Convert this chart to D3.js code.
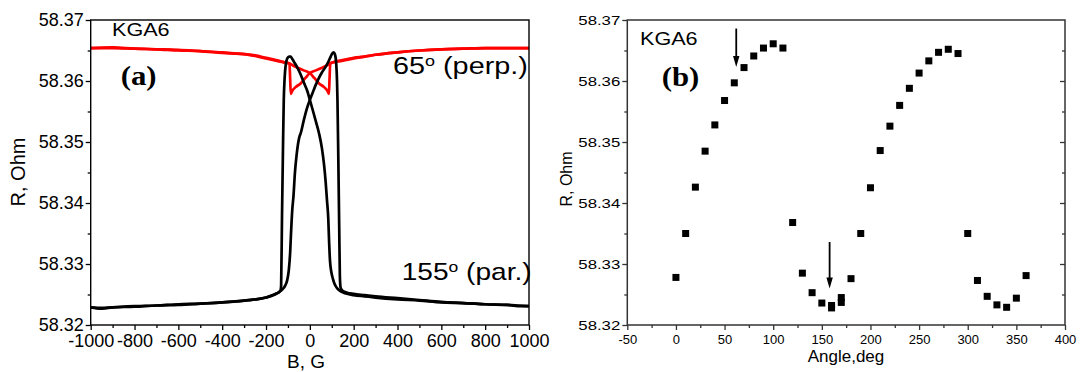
<!DOCTYPE html>
<html>
<head>
<meta charset="utf-8">
<script src="https://cdn.jsdelivr.net/npm/d3@7"></script>
<style>
  body { margin: 0; background: #fff; }
  svg { display: block; }
  text { font-family: "Liberation Sans", Arial, sans-serif; white-space: pre; }
</style>
</head>
<body>
<svg id="chart" width="1081" height="372"></svg>
<script>
// ---------- (a) R vs field, two sweeps per orientation ----------
const redUpB = [-1000, -900, -800, -700, -600, -500, -400, -300, -250, -200, -150, -130, -110, -95, -75, -50, -25, 0, 20, 42, 65, 80, 87, 90, 93, 110, 130, 160, 200, 250, 300, 400, 500, 600, 700, 800, 900, 1000];
const redUpR = [58.3654, 58.3654, 58.3653, 58.3652, 58.3651, 58.3649, 58.3647, 58.3644, 58.3642, 58.3638, 58.3634, 58.3632, 58.3630, 58.3629, 58.3625, 58.3621, 58.3617, 58.3613, 58.3605, 58.3596, 58.3590, 58.3584, 58.3579, 58.3605, 58.3629, 58.3631, 58.3632, 58.3634, 58.3637, 58.3640, 58.3643, 58.3647, 58.3650, 58.3652, 58.3653, 58.3654, 58.3654, 58.3654];

const redDnB = [-1000, -900, -800, -700, -600, -500, -400, -300, -250, -200, -150, -110, -93, -90, -87, -80, -65, -42, -20, 0, 25, 50, 75, 95, 110, 130, 160, 200, 250, 300, 400, 500, 600, 700, 800, 900, 1000];
const redDnR = [58.3654, 58.3655, 58.3653, 58.3652, 58.3650, 58.3649, 58.3646, 58.3644, 58.3641, 58.3637, 58.3633, 58.3630, 58.3629, 58.3605, 58.3579, 58.3584, 58.3590, 58.3596, 58.3605, 58.3613, 58.3617, 58.3621, 58.3625, 58.3629, 58.3631, 58.3633, 58.3635, 58.3638, 58.3640, 58.3643, 58.3647, 58.3650, 58.3652, 58.3653, 58.3654, 58.3654, 58.3654];

const blackUpB = [-1000, -950, -900, -850, -800, -700, -600, -500, -400, -300, -250, -200, -170, -150, -140, -133, -131, -127, -123, -119, -115, -110, -103, -95, -88, -80, -70, -57, -45, -27, -12, 0, 15, 28, 42, 55, 65, 72, 78, 84, 88, 92, 98, 105, 112, 125, 141, 160, 200, 250, 300, 400, 500, 600, 700, 800, 900, 950, 1000];
const blackUpR = [58.3229, 58.3227, 58.3229, 58.3230, 58.3231, 58.3232, 58.3234, 58.3235, 58.3237, 58.3240, 58.3242, 58.3245, 58.3249, 58.3252, 58.3254, 58.3258, 58.3265, 58.3380, 58.3480, 58.3569, 58.3605, 58.3627, 58.3637, 58.3640, 58.3640, 58.3636, 58.3630, 58.3622, 58.3613, 58.3597, 58.3584, 58.3569, 58.3550, 58.3533, 58.3514, 58.3490, 58.3462, 58.3435, 58.3405, 58.3375, 58.3335, 58.3305, 58.3287, 58.3276, 58.3268, 58.3260, 58.3255, 58.3252, 58.3249, 58.3247, 58.3245, 58.3242, 58.3240, 58.3237, 58.3236, 58.3234, 58.3233, 58.3232, 58.3231];

const blackDnB = [-1000, -950, -900, -800, -700, -600, -500, -400, -300, -200, -160, -141, -126, -112, -103, -96, -90, -86, -80, -75, -68, -60, -48, -42, -28, -15, 0, 12, 25, 40, 55, 70, 85, 95, 102, 108, 115, 120, 124, 126, 130, 134, 137, 140, 145, 150, 170, 200, 250, 300, 400, 500, 600, 700, 800, 900, 950, 1000];
const blackDnR = [58.3229, 58.3228, 58.3229, 58.3230, 58.3232, 58.3233, 58.3235, 58.3237, 58.3240, 58.3245, 58.3250, 58.3254, 58.3258, 58.3265, 58.3274, 58.3290, 58.3318, 58.3350, 58.3390, 58.3410, 58.3450, 58.3480, 58.3508, 58.3514, 58.3535, 58.3553, 58.3569, 58.3580, 58.3592, 58.3604, 58.3614, 58.3622, 58.3632, 58.3640, 58.3645, 58.3647, 58.3643, 58.3630, 58.3600, 58.3569, 58.3470, 58.3360, 58.3280, 58.3262, 58.3258, 58.3256, 58.3253, 58.3251, 58.3249, 58.3247, 58.3244, 58.3241, 58.3238, 58.3236, 58.3234, 58.3233, 58.3231, 58.3231];

const fieldTicks = [-1000, -800, -600, -400, -200, 0, 200, 400, 600, 800, 1000];
const fieldMinor = [-900, -700, -500, -300, -100, 100, 300, 500, 700, 900];

// ---------- (b) R vs angle ----------
const angleDeg = [0, 10, 20, 30, 40, 50, 60, 70, 80, 90, 100, 110, 120, 130, 140, 150, 160, 170, 180, 190, 200, 210, 220, 230, 240, 250, 260, 270, 280, 290, 300, 310, 320, 330, 340, 350, 360];
const resistance = [58.3278, 58.3350, 58.3426, 58.3485, 58.3528, 58.3568, 58.3597, 58.3622, 58.3641, 58.3654, 58.3661, 58.3654, 58.3368, 58.3285, 58.3253, 58.3236, 58.3232, 58.3245, 58.3276, 58.3350, 58.3425, 58.3486, 58.3526, 58.3560, 58.3588, 58.3613, 58.3633, 58.3647, 58.3652, 58.3645, 58.3350, 58.3273, 58.3247, 58.3233, 58.3229, 58.3244, 58.3281];
const repeatAngle = [160, 170];
const repeatR = [58.3228, 58.3237];

const arrowAngle = [62, 158];
const arrowFrom = [58.3686, 58.3336];
const arrowTo = [58.3623, 58.3260];

const angleTicks = [-50, 0, 50, 100, 150, 200, 250, 300, 350, 400];
const angleMinor = [-25, 25, 75, 125, 175, 225, 275, 325, 375];
const rTicks = [58.32, 58.33, 58.34, 58.35, 58.36, 58.37];
const rMinor = [58.325, 58.335, 58.345, 58.355, 58.365];

const svg = d3.select('#chart');
const fmt2 = d3.format('.2f');

// ======== LEFT PANEL ========
const xL = d3.scaleLinear().domain([-1000, 1000]).range([90.7, 529]);
const yL = d3.scaleLinear().domain([58.32, 58.37]).range([325, 20]);
const gL = svg.append('g');

const lineL = d3.line()
  .x(d => xL(d[0]))
  .y(d => yL(d[1]))
  .curve(d3.curveMonotoneX);

function drawSweep(bs, rs, color) {
  gL.append('path')
    .datum(d3.zip(bs, rs))
    .attr('d', lineL)
    .attr('fill', 'none')
    .attr('stroke', color)
    .attr('stroke-width', 2.7)
    .attr('stroke-linejoin', 'round');
}
drawSweep(redUpB, redUpR, '#ff0000');
drawSweep(redDnB, redDnR, '#ff0000');
drawSweep(blackUpB, blackUpR, '#000');
drawSweep(blackDnB, blackDnR, '#000');

// frame
gL.append('rect')
  .attr('x', xL(-1000)).attr('y', yL(58.37))
  .attr('width', xL(1000) - xL(-1000))
  .attr('height', yL(58.32) - yL(58.37))
  .attr('fill', 'none').attr('stroke', '#000').attr('stroke-width', 1.4);

const axBL = gL.append('g').attr('transform', `translate(0,${yL(58.32)})`)
  .call(d3.axisBottom(xL).tickValues(fieldTicks).tickFormat(d => String(d)).tickSize(5).tickSizeOuter(0).tickPadding(4));
gL.append('g').attr('transform', `translate(0,${yL(58.32)})`)
  .call(d3.axisBottom(xL).tickValues(fieldMinor).tickFormat('').tickSize(3).tickSizeOuter(0));
const axLL = gL.append('g').attr('transform', `translate(${xL(-1000)},0)`)
  .call(d3.axisLeft(yL).tickValues(rTicks).tickFormat(fmt2).tickSize(5).tickSizeOuter(0).tickPadding(2));
gL.append('g').attr('transform', `translate(${xL(-1000)},0)`)
  .call(d3.axisLeft(yL).tickValues(rMinor).tickFormat('').tickSize(3).tickSizeOuter(0));
gL.selectAll('.domain').remove();
gL.selectAll('.tick line').attr('stroke', '#000').attr('stroke-width', 1.3);
axBL.selectAll('text').attr('font-size', 18).attr('fill', '#000').attr('font-family', '"Liberation Sans", Arial, sans-serif');
axLL.selectAll('text').attr('font-size', 18).attr('fill', '#000').attr('font-family', '"Liberation Sans", Arial, sans-serif');

gL.append('text').attr('x', 306).attr('y', 368).attr('text-anchor', 'middle')
  .attr('font-size', 19).text('B, G');
gL.append('text').attr('transform', 'translate(25,172) rotate(-90)').attr('text-anchor', 'middle')
  .attr('font-size', 20).text('R, Ohm');

function stretched(g, x, y, sx) {
  return g.append('text').attr('transform', `translate(${x},${y}) scale(${sx},1)`);
}
stretched(gL, 112, 36, 1.2).attr('font-size', 18).text('KGA6');
stretched(gL, 120.7, 85, 1.1).attr('font-size', 28).attr('font-weight', 'bold')
  .style('font-family', '"Liberation Serif", "Times New Roman", serif').text('(a)');

const perp = stretched(gL, 393, 74, 1.2).attr('font-size', 24);
perp.append('tspan').text('65');
perp.append('tspan').attr('font-size', 15).attr('dy', -8).text('o');
perp.append('tspan').attr('dy', 8).text(' (perp.)');

const par = stretched(gL, 401.7, 280, 1.17).attr('font-size', 24);
par.append('tspan').text('155');
par.append('tspan').attr('font-size', 15).attr('dy', -8).text('o');
par.append('tspan').attr('dy', 8).text(' (par.)');

// ======== RIGHT PANEL ========
const xR = d3.scaleLinear().domain([-50, 400]).range([627.3, 1065]);
const yR = d3.scaleLinear().domain([58.32, 58.37]).range([325, 20]);
const gR = svg.append('g');

const pts = d3.zip(angleDeg, resistance).concat(d3.zip(repeatAngle, repeatR));
gR.selectAll('rect.pt')
  .data(pts)
  .enter()
  .append('rect')
  .attr('class', 'pt')
  .attr('x', d => xR(d[0]) - 3.5)
  .attr('y', d => yR(d[1]) - 3.5)
  .attr('width', 7)
  .attr('height', 7)
  .attr('fill', '#000');

// arrows
const arrows = d3.zip(arrowAngle, arrowFrom, arrowTo);
gR.selectAll('line.arrow')
  .data(arrows)
  .enter()
  .append('line')
  .attr('class', 'arrow')
  .attr('x1', d => xR(d[0])).attr('x2', d => xR(d[0]))
  .attr('y1', d => yR(d[1])).attr('y2', d => yR(d[2]) - 8)
  .attr('stroke', '#000').attr('stroke-width', 1.8);
gR.selectAll('path.head')
  .data(arrows)
  .enter()
  .append('path')
  .attr('class', 'head')
  .attr('d', d => {
    const x = xR(d[0]), y = yR(d[2]);
    return `M${x - 3.2},${y - 11} L${x + 3.2},${y - 11} L${x},${y} Z`;
  })
  .attr('fill', '#000');

gR.append('rect')
  .attr('x', xR(-50)).attr('y', yR(58.37))
  .attr('width', xR(400) - xR(-50))
  .attr('height', yR(58.32) - yR(58.37))
  .attr('fill', 'none').attr('stroke', '#333').attr('stroke-width', 1.5);

const axBR = gR.append('g').attr('transform', `translate(0,${yR(58.32)})`)
  .call(d3.axisBottom(xR).tickValues(angleTicks).tickFormat(d => String(d)).tickSize(5).tickSizeOuter(0).tickPadding(5));
gR.append('g').attr('transform', `translate(0,${yR(58.32)})`)
  .call(d3.axisBottom(xR).tickValues(angleMinor).tickFormat('').tickSize(3).tickSizeOuter(0));
const axLR = gR.append('g').attr('transform', `translate(${xR(-50)},0)`)
  .call(d3.axisLeft(yR).tickValues(rTicks).tickFormat(fmt2).tickSize(5).tickSizeOuter(0).tickPadding(2));
gR.append('g').attr('transform', `translate(${xR(-50)},0)`)
  .call(d3.axisLeft(yR).tickValues(rMinor).tickFormat('').tickSize(3).tickSizeOuter(0));
// inward ticks on the right spine
gR.append('g').attr('transform', `translate(${xR(400)},0)`)
  .call(d3.axisLeft(yR).tickValues(rTicks.slice(1, -1)).tickFormat('').tickSize(5).tickSizeOuter(0));
gR.append('g').attr('transform', `translate(${xR(400)},0)`)
  .call(d3.axisLeft(yR).tickValues(rMinor).tickFormat('').tickSize(3).tickSizeOuter(0));
gR.selectAll('.domain').remove();
gR.selectAll('.tick line').attr('stroke', '#333').attr('stroke-width', 1.3);
axBR.selectAll('text').attr('font-size', 13).attr('fill', '#000').attr('font-family', '"Liberation Sans", Arial, sans-serif');
axLR.selectAll('text').attr('font-size', 13).attr('fill', '#000').attr('font-family', '"Liberation Sans", Arial, sans-serif')
  .attr('textLength', 42).attr('lengthAdjust', 'spacingAndGlyphs');

gR.append('text').attr('x', 846).attr('y', 362).attr('text-anchor', 'middle')
  .attr('font-size', 17).text('Angle,deg');
gR.append('text').attr('transform', 'translate(572,179) rotate(-90)').attr('text-anchor', 'middle')
  .attr('font-size', 16).text('R, Ohm');

stretched(gR, 640, 45, 1.2).attr('font-size', 18).text('KGA6');
stretched(gR, 661.7, 86, 1.1).attr('font-size', 28).attr('font-weight', 'bold')
  .style('font-family', '"Liberation Serif", "Times New Roman", serif').text('(b)');
</script>
</body>
</html>
